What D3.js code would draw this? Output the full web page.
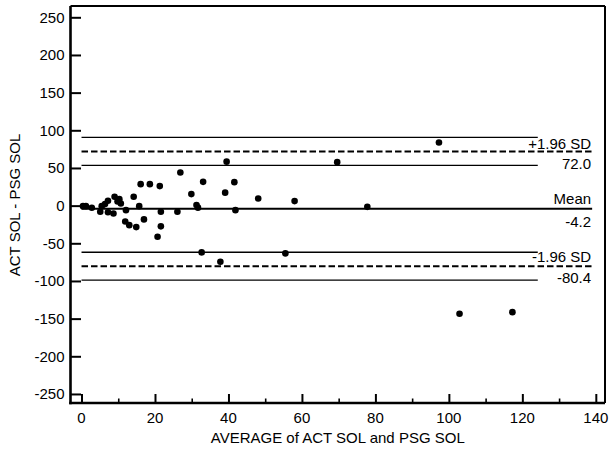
<!DOCTYPE html>
<html>
<head>
<meta charset="utf-8">
<script src="https://cdn.jsdelivr.net/npm/d3@7"></script>
<style>
  html, body { margin: 0; padding: 0; background: #fff; }
  svg { display: block; }
  text { font-family: "Liberation Sans", Arial, sans-serif; fill: #000; }
</style>
</head>
<body>
<svg id="chart" width="612" height="451"></svg>
<script>
// ---- data ----
const avgValues = [0.4, 1.2, 2.8, 5.1, 5.5, 6.4, 7.2, 7.2, 8.7, 9.0, 9.8, 10.3, 10.7, 12.1, 11.9, 13.0, 14.2, 15.7, 14.9, 16.1, 17.0, 18.6, 21.3, 21.6, 21.6, 20.7, 26.1, 26.9, 29.9, 31.3, 31.7, 33.1, 32.7, 37.8, 39.1, 39.5, 41.6, 41.9, 48.1, 58.0, 55.5, 69.6, 77.8, 97.3, 102.9, 117.3];
const diffValues = [-0.7, -0.7, -2.9, -8.2, -0.7, 2.0, 6.4, -8.8, -10.4, 11.7, 5.5, 8.6, 2.9, -6.0, -21.0, -25.9, 11.7, -0.7, -28.5, 28.5, -18.3, 28.5, 25.9, -8.2, -27.5, -41.4, -8.2, 44.0, 15.3, 0.7, -2.7, 31.6, -62.1, -74.5, 17.2, 58.4, 31.2, -6.0, 9.5, 6.0, -63.4, 57.7, -1.6, 83.8, -143.6, -141.4];
const meanDiff = -4.2;
const upperLimit = 72.0;
const lowerLimit = -80.4;
const upperLimitCI = [53.5, 90.5];
const lowerLimitCI = [-98.9, -61.9];
const limitLineEnd = 139;   // x where mean / limit lines end
const ciLineEnd = 124.2;    // x where CI lines end
const xTicks = [0, 20, 40, 60, 80, 100, 120, 140];
const xMinorTicks = [10, 30, 50, 70, 90, 110, 130];
const yTicks = [250, 200, 150, 100, 50, 0, -50, -100, -150, -200, -250];
const xTitle = "AVERAGE of ACT SOL and PSG SOL";
const yTitle = "ACT SOL - PSG SOL";
const upperLabel = "+1.96 SD", meanLabel = "Mean", lowerLabel = "-1.96 SD";

// ---- layout ----
const L = 70.5, R = 605, T = 6, B = 403;
const svg = d3.select("#chart");
const x = d3.scaleLinear().domain([-3, 142.5]).range([L, R]);
const y = d3.scaleLinear().domain([-262, 265]).range([B, T]);
const fs = 15;

// limit / mean lines
const g = svg.append("g");
function hline(v, x1, x2, width, dash) {
  g.append("line")
    .attr("x1", x(x1)).attr("x2", x(x2))
    .attr("y1", y(v)).attr("y2", y(v))
    .attr("stroke", "#000").attr("stroke-width", width)
    .attr("stroke-dasharray", dash || null);
}
upperLimitCI.forEach(v => hline(v, 0, ciLineEnd, 1.3));
lowerLimitCI.forEach(v => hline(v, 0, ciLineEnd, 1.3));
hline(upperLimit, 0, limitLineEnd, 2, "6.5,3");
hline(lowerLimit, 0, limitLineEnd, 2, "6.5,3");
hline(meanDiff, 0, limitLineEnd, 2);

// labels on lines
const lx = x(limitLineEnd) - 1;
function lab(txt, yy) {
  svg.append("text").attr("x", lx).attr("y", yy)
    .attr("text-anchor", "end").attr("font-size", fs).text(txt);
}
lab(upperLabel, y(upperLimit) - 2.5);
lab(upperLimit.toFixed(1), y(upperLimit) + 18);
lab(meanLabel, y(meanDiff) - 4.5);
lab(meanDiff.toFixed(1), y(meanDiff) + 18);
lab(lowerLabel, y(lowerLimit) - 4);
lab(lowerLimit.toFixed(1), y(lowerLimit) + 16.5);

// points
svg.append("g").selectAll("circle")
  .data(avgValues.map((v, i) => [v, diffValues[i]]))
  .join("circle")
  .attr("cx", d => x(d[0])).attr("cy", d => y(d[1]))
  .attr("r", 3.3).attr("fill", "#000");

// frame
svg.append("line").attr("x1", L).attr("x2", R).attr("y1", T).attr("y2", T)
  .attr("stroke", "#000").attr("stroke-width", 2);
svg.append("line").attr("x1", R).attr("x2", R).attr("y1", T).attr("y2", B)
  .attr("stroke", "#000").attr("stroke-width", 2);

// y axis (ticks inward)
const yAxis = d3.axisRight(y).tickValues(yTicks).tickSize(10.5).tickFormat(() => "");
const ya = svg.append("g").attr("transform", `translate(${L},0)`).call(yAxis);
ya.select(".domain").attr("stroke-width", 2.6).attr("d", `M0,${T}V${B + 1.3}`);
ya.selectAll(".tick line").attr("stroke-width", 2);
yTicks.forEach(v => {
  svg.append("text").attr("x", 64.5).attr("y", y(v)).attr("dy", "0.36em")
    .attr("text-anchor", "end").attr("font-size", fs).text(String(v));
});

// x axis (ticks inward)
const xAxis = d3.axisTop(x).tickValues(xTicks).tickSize(9).tickFormat(() => "");
const xa = svg.append("g").attr("transform", `translate(0,${B})`).call(xAxis);
xa.select(".domain").attr("stroke-width", 2.6).attr("d", `M${L - 1.3},0H${R}`);
xa.selectAll(".tick line").attr("stroke-width", 2);
const xAxisMinor = d3.axisTop(x).tickValues(xMinorTicks).tickSize(4.5).tickFormat(() => "");
const xm = svg.append("g").attr("transform", `translate(0,${B})`).call(xAxisMinor);
xm.select(".domain").remove();
xm.selectAll(".tick line").attr("stroke-width", 1.6);
xTicks.forEach(v => {
  svg.append("text").attr("x", x(v)).attr("y", 423)
    .attr("text-anchor", "middle").attr("font-size", fs).text(String(v));
});

// titles
svg.append("text").attr("x", (L + R) / 2).attr("y", 443)
  .attr("text-anchor", "middle").attr("font-size", fs).text(xTitle);
svg.append("text").attr("transform", "translate(19.5,205) rotate(-90)")
  .attr("text-anchor", "middle").attr("font-size", fs).text(yTitle);
</script>
</body>
</html>
